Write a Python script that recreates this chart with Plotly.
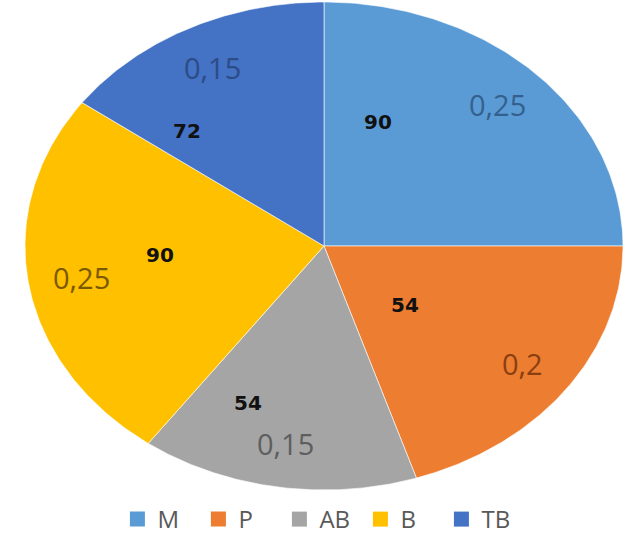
import numpy as np
import plotly.graph_objects as go

# Category shares and the labels printed on each slice
labels = ["M", "P", "AB", "B", "TB"]
values = [0.25, 0.2, 0.15, 0.25, 0.15]
value_text = ["0,25", "0,2", "0,15", "0,25", "0,15"]
degree_text = ["90", "54", "54", "90", "72"]

colors = ["#5B9BD5", "#ED7D31", "#A5A5A5", "#FFC000", "#4472C4"]
value_colors = ["#34608f", "#8a3f10", "#5e5e5e", "#7a5a00", "#2c4c86"]

# Ellipse geometry (pixel space, y downwards)
W, H = 636, 542
cx, cy, rx, ry = 324, 246, 299, 244

# Bold angle labels: (x, y) in pixel space
degree_pos = [(378, 122), (405, 305), (248, 403), (160, 255), (187, 131)]


def pt(theta, r=1.0):
    # theta in degrees, clockwise from 12 o'clock
    t = np.radians(theta)
    return cx + r * rx * np.sin(t), cy - r * ry * np.cos(t)


fig = go.Figure()
total = sum(values)
start = 0.0
mids = []
for lab, v, col in zip(labels, values, colors):
    span = 360.0 * v / total
    th = np.linspace(start, start + span, 120)
    xs, ys = pt(th)
    xs = np.concatenate([[cx], xs, [cx]])
    ys = np.concatenate([[cy], ys, [cy]])
    fig.add_trace(go.Scatter(
        x=xs, y=ys, mode="lines", fill="toself", fillcolor=col,
        line=dict(color="rgba(255,255,255,0.6)", width=1),
        name=lab, hoverinfo="skip", showlegend=False,
    ))
    mids.append(start + span / 2)
    start += span

# Square legend swatches
for lab, col in zip(labels, colors):
    fig.add_trace(go.Scatter(
        x=[None], y=[None], mode="markers", name=lab,
        marker=dict(symbol="square", size=15, color=col),
        showlegend=True, hoverinfo="skip",
    ))

# Share labels, placed along each slice's mid-angle
for m, txt, c in zip(mids, value_text, value_colors):
    x, y = pt(m, 0.82)
    fig.add_annotation(x=x, y=y, text=txt, showarrow=False,
                       font=dict(family="Open Sans, sans-serif", size=29, color=c))

for (x, y), txt in zip(degree_pos, degree_text):
    fig.add_annotation(x=x, y=y, text="<b>" + txt + "</b>", showarrow=False,
                       font=dict(family="DejaVu Sans", size=20, color="#111111"))

fig.update_layout(
    width=W, height=H,
    margin=dict(l=0, r=0, t=0, b=0, autoexpand=False),
    paper_bgcolor="white", plot_bgcolor="white",
    xaxis=dict(range=[0, W], visible=False, fixedrange=True),
    yaxis=dict(range=[H, 0], visible=False, fixedrange=True),
    legend=dict(orientation="h", x=0.503, xanchor="center", y=0.0, yanchor="bottom",
                font=dict(family="Open Sans, sans-serif", size=24, color="#595959"),
                itemwidth=30, entrywidth=36, entrywidthmode="pixels",
                bgcolor="rgba(0,0,0,0)"),
    showlegend=True,
)

fig.write_html("out.html")
